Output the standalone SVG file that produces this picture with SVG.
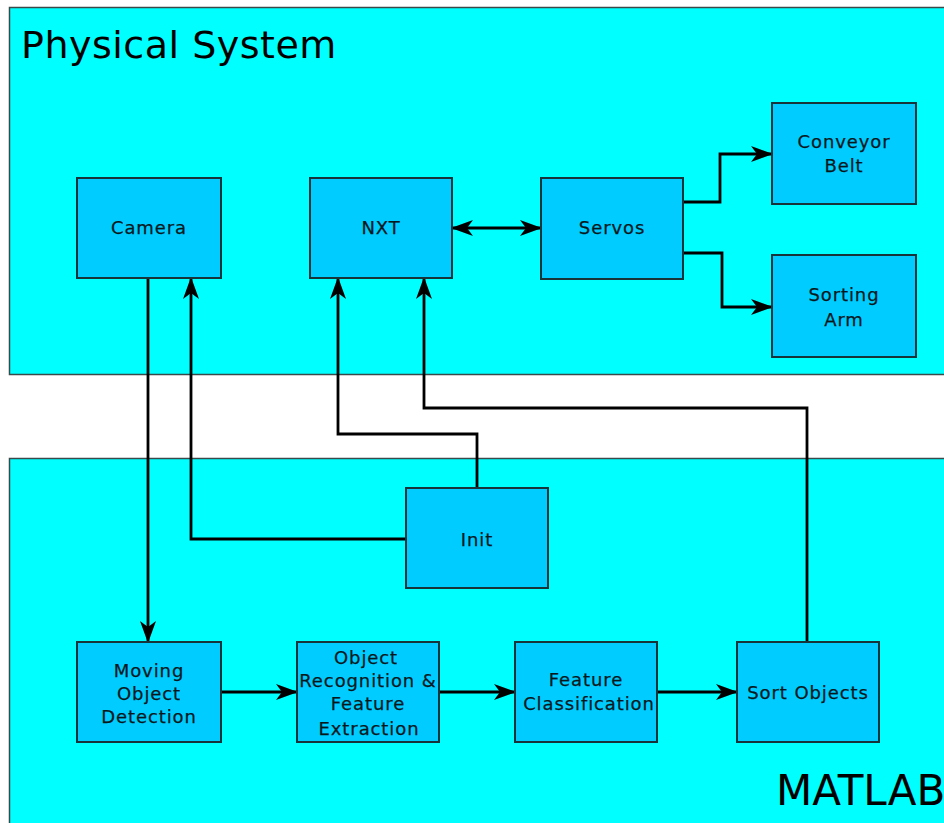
<svg xmlns="http://www.w3.org/2000/svg" width="944" height="823" viewBox="0 0 944 823">
<style>
.container{fill:#00ffff;stroke:#3a4a4a;stroke-width:1.5}
.node rect{fill:#00ccff;stroke:#16343a;stroke-width:2}
.node text{font-family:"DejaVu Sans",sans-serif;font-size:18px;fill:#06181c;text-anchor:middle;letter-spacing:0.9px;stroke:#06181c;stroke-width:0.25}
.title{font-family:"DejaVu Sans",sans-serif;fill:#000}
.conn path{fill:none;stroke:#000;stroke-width:2.8;stroke-linejoin:miter}
</style>
<defs>
<marker id="ah" markerUnits="userSpaceOnUse" markerWidth="22" markerHeight="17" refX="21" refY="8" orient="auto-start-reverse" viewBox="0 0 22 16">
<path d="M0,0 L22,8 L0,16 L6,8 Z" fill="#000"/>
</marker>
</defs>
<rect width="944" height="823" fill="#ffffff"/>
<g id="physical-system">
<rect class="container" x="9.5" y="7.5" width="940" height="367"/>
<text class="title" x="21" y="58" font-size="38" letter-spacing="0.5">Physical System</text>
</g>
<g id="matlab">
<rect class="container" x="9.5" y="458.5" width="940" height="370"/>
<text class="title" x="776" y="805" font-size="42">MATLAB</text>
</g>
<g class="conn" id="connectors">
<path d="M452,228 L541,228" marker-start="url(#ah)" marker-end="url(#ah)"/>
<path d="M683,202 L720,202 L720,154 L772,154" marker-end="url(#ah)"/>
<path d="M683,253 L722,253 L722,307 L772,307" marker-end="url(#ah)"/>
<path d="M148,278 L148,642" marker-end="url(#ah)"/>
<path d="M406,539 L191,539 L191,278" marker-end="url(#ah)"/>
<path d="M477,488 L477,434 L338,434 L338,278" marker-end="url(#ah)"/>
<path d="M807,642 L807,408 L424,408 L424,278" marker-end="url(#ah)"/>
<path d="M221,692 L297,692" marker-end="url(#ah)"/>
<path d="M439,692 L515,692" marker-end="url(#ah)"/>
<path d="M657,692 L737,692" marker-end="url(#ah)"/>
</g>
<g class="node" id="camera"><rect x="77" y="178" width="144" height="100"/><text x="149" y="234">Camera</text></g>
<g class="node" id="nxt"><rect x="310" y="178" width="142" height="100"/><text x="381" y="234">NXT</text></g>
<g class="node" id="servos"><rect x="541" y="178" width="142" height="101"/><text x="612" y="234">Servos</text></g>
<g class="node" id="conveyor-belt"><rect x="772" y="103" width="144" height="101"/><text x="844" y="148">Conveyor</text><text x="844" y="172">Belt</text></g>
<g class="node" id="sorting-arm"><rect x="772" y="255" width="144" height="102"/><text x="844" y="301">Sorting</text><text x="844" y="326">Arm</text></g>
<g class="node" id="init"><rect x="406" y="488" width="142" height="100"/><text x="477" y="546">Init</text></g>
<g class="node" id="moving-object-detection"><rect x="77" y="642" width="144" height="100"/><text x="149" y="677">Moving</text><text x="149" y="700">Object</text><text x="149" y="723">Detection</text></g>
<g class="node" id="object-recognition"><rect x="297" y="642" width="142" height="100"/><text x="366" y="664">Object</text><text x="368" y="687">Recognition &amp;</text><text x="368" y="710">Feature</text><text x="369" y="735">Extraction</text></g>
<g class="node" id="feature-classification"><rect x="515" y="642" width="142" height="100"/><text x="586" y="686">Feature</text><text x="589" y="710">Classification</text></g>
<g class="node" id="sort-objects"><rect x="737" y="642" width="142" height="100"/><text x="808" y="699">Sort Objects</text></g>
</svg>
